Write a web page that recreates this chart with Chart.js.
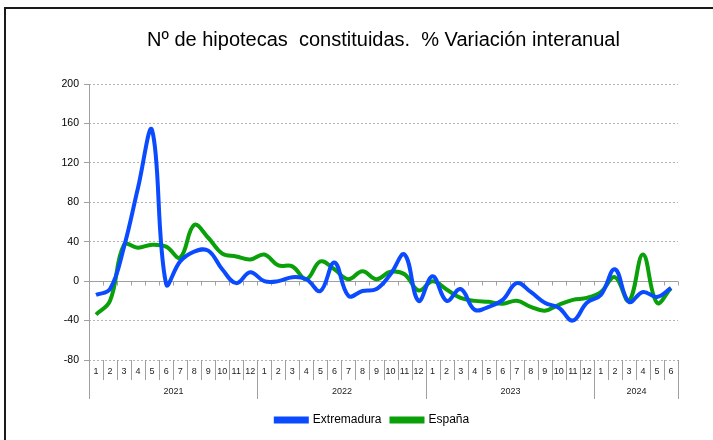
<!DOCTYPE html>
<html>
<head>
<meta charset="utf-8">
<script src="https://cdn.jsdelivr.net/npm/chart.js@4"></script>
<style>
  html, body { margin: 0; padding: 0; background: #fff; }
  #c { display: block; }
</style>
</head>
<body>
<canvas id="c" width="713" height="440"></canvas>
<script>
const chartTitle = 'Nº de hipotecas  constituidas.  % Variación interanual';
const years = ['2021', '2022', '2023', '2024'];
const monthsPerYear = [12, 12, 12, 6];
const categories = [
  '1','2','3','4','5','6','7','8','9','10','11','12',
  '1','2','3','4','5','6','7','8','9','10','11','12',
  '1','2','3','4','5','6','7','8','9','10','11','12',
  '1','2','3','4','5','6'
];
const extremadura = [
  -14, -8, 35, 95, 153, -3, 20, 30, 31, 12, -2, 9,
  0, 0, 4, 2, -10, 19, -15, -10, -8, 7, 27, -20,
  5, -20, -8, -29, -26, -19, -2, -11, -22, -27, -40, -22,
  -14, 12, -21, -11, -16, -7
];
const espana = [
  -34, -20, 37, 34, 37, 35, 24, 57, 44, 28, 25, 22,
  27, 16, 15, 2, 20, 12, 2, 10, 2, 9.5, 7, -9.5,
  0, -8.5, -17, -20, -21, -23, -20, -26, -30, -24, -19, -17,
  -11, 4, -20, 27, -22, -7
];
const yMin = -80, yMax = 200, yStep = 40;

const FONT = "'Liberation Sans', Arial, sans-serif";
const BLUE = '#0a4bff';
const GREEN = '#0aa00a';

const decor = {
  id: 'decor',
  beforeDraw(chart) {
    const lg = chart.legend;
    if (lg) {
      if (!lg._base) lg._base = { left: lg.left, right: lg.right, top: lg.top, bottom: lg.bottom };
      const dx = -11, dy = -4;
      lg.left = lg._base.left + dx; lg.right = lg._base.right + dx;
      lg.top = lg._base.top + dy; lg.bottom = lg._base.bottom + dy;
    }
  },
  beforeDatasetsDraw(chart) {
    const { ctx, scales: { x, y }, chartArea: a } = chart;
    const n = categories.length;
    const step = (a.right - a.left) / n;
    const y0 = Math.round(y.getPixelForValue(0)) + 0.5;
    ctx.save();
    ctx.strokeStyle = '#a0a0a0';
    ctx.lineWidth = 1;
    ctx.setLineDash([]);
    ctx.beginPath();
    ctx.moveTo(a.left, y0); ctx.lineTo(a.right, y0);
    for (let i = 0; i <= n; i++) {
      const xx = Math.round(x.getPixelForValue(Math.min(i, n - 1)) + (i < n ? -step / 2 : step / 2)) + 0.5;
      ctx.moveTo(xx, y0); ctx.lineTo(xx, y0 + 4);
    }
    ctx.stroke();
    ctx.restore();
  },
  afterDraw(chart) {
    const { ctx, scales: { x, y }, chartArea: a } = chart;
    const n = categories.length;
    const step = (a.right - a.left) / n;
    const bottom = Math.round(y.getPixelForValue(yMin));
    const edge = i => Math.round(x.getPixelForValue(Math.min(i, n - 1)) + (i < n ? -step / 2 : step / 2)) + 0.5;
    ctx.save();
    ctx.strokeStyle = '#a0a0a0';
    ctx.lineWidth = 1;
    ctx.beginPath();
    ctx.moveTo(Math.round(a.left) + 0.5, Math.round(a.top));
    ctx.lineTo(Math.round(a.left) + 0.5, bottom + 39);
    for (let i = 0; i <= n; i++) {
      ctx.moveTo(edge(i), bottom); ctx.lineTo(edge(i), bottom + 20);
    }
    let acc = 0;
    const yb = [0];
    monthsPerYear.forEach(m => { acc += m; yb.push(acc); });
    yb.forEach(i => { ctx.moveTo(edge(i), bottom); ctx.lineTo(edge(i), bottom + 39); });
    ctx.stroke();

    ctx.fillStyle = '#222';
    ctx.textAlign = 'center';
    ctx.textBaseline = 'middle';
    ctx.font = '9px ' + FONT;
    categories.forEach((lab, i) => {
      ctx.fillText(lab, x.getPixelForValue(i), bottom + 12);
    });
    years.forEach((yr, k) => {
      const x1 = edge(yb[k]), x2 = edge(yb[k + 1]);
      ctx.fillText(yr, (x1 + x2) / 2, bottom + 32);
    });

    ctx.strokeStyle = '#1a1a1a';
    ctx.lineWidth = 2;
    ctx.beginPath();
    ctx.moveTo(5, 440); ctx.lineTo(5, 8); ctx.lineTo(713, 8);
    ctx.stroke();
    ctx.restore();
  }
};

new Chart(document.getElementById('c'), {
  type: 'line',
  data: {
    labels: categories,
    datasets: [
      { label: 'Extremadura', data: extremadura, borderColor: BLUE, backgroundColor: BLUE,
        borderWidth: 4, pointRadius: 0, tension: 0.4, fill: false },
      { label: 'España', data: espana, borderColor: GREEN, backgroundColor: GREEN,
        borderWidth: 4, pointRadius: 0, tension: 0.4, fill: false }
    ]
  },
  options: {
    responsive: false,
    animation: false,
    devicePixelRatio: 1,
    layout: { padding: { left: 0, right: 35, top: 0, bottom: 0 } },
    plugins: {
      title: {
        display: true, text: chartTitle, fullSize: false, color: '#000',
        font: { family: FONT, size: 20, weight: 'normal' },
        padding: { top: 28, bottom: 32 }
      },
      legend: {
        position: 'bottom', fullSize: false,
        labels: { boxWidth: 31, boxHeight: 3, color: '#000', padding: 10,
          font: { family: FONT, size: 12 } }
      },
      tooltip: { enabled: false }
    },
    scales: {
      x: {
        offset: true,
        grid: { display: false },
        border: { display: false },
        ticks: { display: false },
        afterFit(s) { s.height = 48; }
      },
      y: {
        min: yMin, max: yMax,
        ticks: { stepSize: yStep, color: '#000', padding: 5, font: { family: FONT, size: 10.5 } },
        grid: { color: '#b4b4b4', tickLength: 5, tickColor: '#a0a0a0', tickBorderDash: [] },
        border: { display: false, dash: [2, 2] },
        afterFit(s) { s.width = 89; }
      }
    }
  },
  plugins: [decor]
});
</script>
</body>
</html>
